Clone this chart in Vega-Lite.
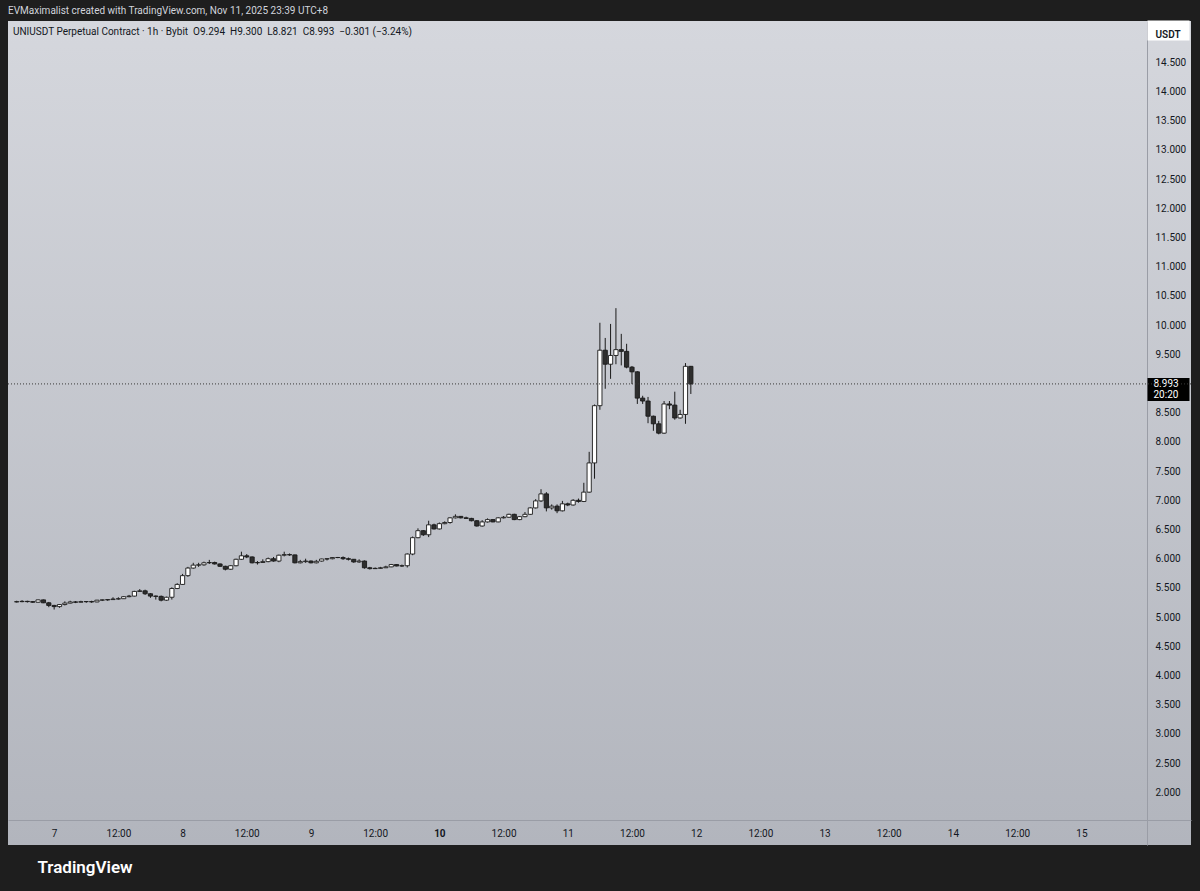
{
  "$schema": "https://vega.github.io/schema/vega-lite/v6.json",
  "width": 1183,
  "height": 824,
  "autosize": {"type": "none"},
  "padding": {"left": 8, "top": 21, "right": 9, "bottom": 46},
  "background": "#1e1e1e",
  "title": {
    "text": "EVMaximalist created with TradingView.com, Nov 11, 2025 23:39 UTC+8",
    "subtitle": "\u200b\u00a0\u00a0UNIUSDT Perpetual Contract · 1h · Bybit\u00a0\u00a0O9.294\u00a0\u00a0H9.300\u00a0\u00a0L8.821\u00a0\u00a0C8.993\u00a0\u00a0−0.301 (−3.24%)",
    "anchor": "start",
    "frame": "group",
    "color": "#d1d4dc",
    "fontSize": 10,
    "fontWeight": "normal",
    "subtitleColor": "#131722",
    "subtitleFontSize": 10,
    "subtitlePadding": 11,
    "offset": -17
  },
  "config": {
    "font": "Roboto",
    "view": {
      "stroke": null,
      "fill": {
        "gradient": "linear",
        "x1": 0, "y1": 0, "x2": 0, "y2": 1,
        "stops": [
          {"offset": 0, "color": "#d5d7dd"},
          {"offset": 1, "color": "#b2b5bd"}
        ]
      }
    }
  },
  "data": {
    "values": [
      {"t": "2025-11-06T17:00:00Z", "o": 5.26, "h": 5.28, "l": 5.25, "c": 5.265},
      {"t": "2025-11-06T18:00:00Z", "o": 5.265, "h": 5.29, "l": 5.255, "c": 5.27},
      {"t": "2025-11-06T19:00:00Z", "o": 5.27, "h": 5.28, "l": 5.25, "c": 5.265},
      {"t": "2025-11-06T20:00:00Z", "o": 5.265, "h": 5.275, "l": 5.245, "c": 5.255},
      {"t": "2025-11-06T21:00:00Z", "o": 5.255, "h": 5.3, "l": 5.25, "c": 5.295},
      {"t": "2025-11-06T22:00:00Z", "o": 5.295, "h": 5.3, "l": 5.24, "c": 5.245},
      {"t": "2025-11-06T23:00:00Z", "o": 5.245, "h": 5.26, "l": 5.17, "c": 5.2},
      {"t": "2025-11-07T00:00:00Z", "o": 5.2, "h": 5.21, "l": 5.13, "c": 5.18},
      {"t": "2025-11-07T01:00:00Z", "o": 5.18, "h": 5.22, "l": 5.16, "c": 5.215},
      {"t": "2025-11-07T02:00:00Z", "o": 5.215, "h": 5.27, "l": 5.2, "c": 5.24},
      {"t": "2025-11-07T03:00:00Z", "o": 5.24, "h": 5.28, "l": 5.235, "c": 5.26},
      {"t": "2025-11-07T04:00:00Z", "o": 5.26, "h": 5.275, "l": 5.24, "c": 5.255},
      {"t": "2025-11-07T05:00:00Z", "o": 5.255, "h": 5.28, "l": 5.25, "c": 5.265},
      {"t": "2025-11-07T06:00:00Z", "o": 5.265, "h": 5.275, "l": 5.245, "c": 5.266},
      {"t": "2025-11-07T07:00:00Z", "o": 5.266, "h": 5.28, "l": 5.245, "c": 5.26},
      {"t": "2025-11-07T08:00:00Z", "o": 5.26, "h": 5.295, "l": 5.255, "c": 5.29},
      {"t": "2025-11-07T09:00:00Z", "o": 5.29, "h": 5.3, "l": 5.275, "c": 5.295},
      {"t": "2025-11-07T10:00:00Z", "o": 5.295, "h": 5.305, "l": 5.28, "c": 5.3},
      {"t": "2025-11-07T11:00:00Z", "o": 5.3, "h": 5.34, "l": 5.295, "c": 5.31},
      {"t": "2025-11-07T12:00:00Z", "o": 5.31, "h": 5.34, "l": 5.3, "c": 5.315},
      {"t": "2025-11-07T13:00:00Z", "o": 5.315, "h": 5.36, "l": 5.31, "c": 5.35},
      {"t": "2025-11-07T14:00:00Z", "o": 5.35, "h": 5.38, "l": 5.34, "c": 5.36},
      {"t": "2025-11-07T15:00:00Z", "o": 5.36, "h": 5.45, "l": 5.355, "c": 5.44},
      {"t": "2025-11-07T16:00:00Z", "o": 5.44, "h": 5.48, "l": 5.43, "c": 5.45},
      {"t": "2025-11-07T17:00:00Z", "o": 5.45, "h": 5.47, "l": 5.38, "c": 5.4},
      {"t": "2025-11-07T18:00:00Z", "o": 5.4, "h": 5.41, "l": 5.33, "c": 5.36},
      {"t": "2025-11-07T19:00:00Z", "o": 5.36, "h": 5.37, "l": 5.3, "c": 5.355},
      {"t": "2025-11-07T20:00:00Z", "o": 5.355, "h": 5.37, "l": 5.27, "c": 5.29},
      {"t": "2025-11-07T21:00:00Z", "o": 5.29, "h": 5.35, "l": 5.28, "c": 5.34},
      {"t": "2025-11-07T22:00:00Z", "o": 5.34, "h": 5.51, "l": 5.3, "c": 5.49},
      {"t": "2025-11-07T23:00:00Z", "o": 5.49, "h": 5.58, "l": 5.48, "c": 5.56},
      {"t": "2025-11-08T00:00:00Z", "o": 5.56, "h": 5.74, "l": 5.55, "c": 5.71},
      {"t": "2025-11-08T01:00:00Z", "o": 5.71, "h": 5.86, "l": 5.69, "c": 5.84},
      {"t": "2025-11-08T02:00:00Z", "o": 5.84, "h": 5.93, "l": 5.83, "c": 5.89},
      {"t": "2025-11-08T03:00:00Z", "o": 5.89, "h": 5.93, "l": 5.86, "c": 5.895},
      {"t": "2025-11-08T04:00:00Z", "o": 5.895, "h": 5.95, "l": 5.88, "c": 5.93},
      {"t": "2025-11-08T05:00:00Z", "o": 5.93, "h": 5.98, "l": 5.91, "c": 5.935},
      {"t": "2025-11-08T06:00:00Z", "o": 5.935, "h": 5.95, "l": 5.9, "c": 5.91},
      {"t": "2025-11-08T07:00:00Z", "o": 5.91, "h": 5.92, "l": 5.86, "c": 5.87},
      {"t": "2025-11-08T08:00:00Z", "o": 5.87, "h": 5.88, "l": 5.8, "c": 5.82},
      {"t": "2025-11-08T09:00:00Z", "o": 5.82, "h": 5.89, "l": 5.81, "c": 5.88},
      {"t": "2025-11-08T10:00:00Z", "o": 5.88, "h": 6.0, "l": 5.87, "c": 5.99},
      {"t": "2025-11-08T11:00:00Z", "o": 5.99, "h": 6.12, "l": 5.98, "c": 6.05},
      {"t": "2025-11-08T12:00:00Z", "o": 6.05, "h": 6.08, "l": 6.01, "c": 6.03},
      {"t": "2025-11-08T13:00:00Z", "o": 6.03, "h": 6.04, "l": 5.92, "c": 5.93},
      {"t": "2025-11-08T14:00:00Z", "o": 5.93, "h": 5.96, "l": 5.9, "c": 5.935},
      {"t": "2025-11-08T15:00:00Z", "o": 5.935, "h": 5.99, "l": 5.93, "c": 5.95},
      {"t": "2025-11-08T16:00:00Z", "o": 5.95, "h": 6.02, "l": 5.94, "c": 6.0},
      {"t": "2025-11-08T17:00:00Z", "o": 6.0, "h": 6.03, "l": 5.95, "c": 5.96},
      {"t": "2025-11-08T18:00:00Z", "o": 5.96, "h": 6.07, "l": 5.94, "c": 6.06},
      {"t": "2025-11-08T19:00:00Z", "o": 6.06, "h": 6.12, "l": 6.04, "c": 6.07},
      {"t": "2025-11-08T20:00:00Z", "o": 6.07, "h": 6.09, "l": 6.05, "c": 6.065},
      {"t": "2025-11-08T21:00:00Z", "o": 6.065, "h": 6.07, "l": 5.92, "c": 5.93},
      {"t": "2025-11-08T22:00:00Z", "o": 5.93, "h": 5.98, "l": 5.92, "c": 5.95},
      {"t": "2025-11-08T23:00:00Z", "o": 5.95, "h": 6.0, "l": 5.93, "c": 5.96},
      {"t": "2025-11-09T00:00:00Z", "o": 5.96, "h": 5.97, "l": 5.92, "c": 5.93},
      {"t": "2025-11-09T01:00:00Z", "o": 5.93, "h": 5.98, "l": 5.92, "c": 5.955},
      {"t": "2025-11-09T02:00:00Z", "o": 5.96, "h": 6.0, "l": 5.95, "c": 5.995},
      {"t": "2025-11-09T03:00:00Z", "o": 5.995, "h": 6.005, "l": 5.97, "c": 6.0},
      {"t": "2025-11-09T04:00:00Z", "o": 6.0, "h": 6.025, "l": 5.99, "c": 6.02},
      {"t": "2025-11-09T05:00:00Z", "o": 6.02, "h": 6.03, "l": 6.01, "c": 6.021},
      {"t": "2025-11-09T06:00:00Z", "o": 6.02, "h": 6.04, "l": 5.98, "c": 6.0},
      {"t": "2025-11-09T07:00:00Z", "o": 6.0, "h": 6.02, "l": 5.97, "c": 5.99},
      {"t": "2025-11-09T08:00:00Z", "o": 5.99, "h": 5.995, "l": 5.93, "c": 5.945},
      {"t": "2025-11-09T09:00:00Z", "o": 5.945, "h": 5.99, "l": 5.93, "c": 5.96},
      {"t": "2025-11-09T10:00:00Z", "o": 5.96, "h": 5.97, "l": 5.83, "c": 5.845},
      {"t": "2025-11-09T11:00:00Z", "o": 5.845, "h": 5.86, "l": 5.815, "c": 5.83},
      {"t": "2025-11-09T12:00:00Z", "o": 5.83, "h": 5.85, "l": 5.825, "c": 5.835},
      {"t": "2025-11-09T13:00:00Z", "o": 5.835, "h": 5.86, "l": 5.83, "c": 5.845},
      {"t": "2025-11-09T14:00:00Z", "o": 5.845, "h": 5.88, "l": 5.84, "c": 5.86},
      {"t": "2025-11-09T15:00:00Z", "o": 5.86, "h": 5.91, "l": 5.855, "c": 5.9},
      {"t": "2025-11-09T16:00:00Z", "o": 5.9, "h": 5.905, "l": 5.87, "c": 5.875},
      {"t": "2025-11-09T17:00:00Z", "o": 5.875, "h": 5.9, "l": 5.86, "c": 5.88},
      {"t": "2025-11-09T18:00:00Z", "o": 5.88, "h": 6.09, "l": 5.85, "c": 6.08},
      {"t": "2025-11-09T19:00:00Z", "o": 6.08, "h": 6.38, "l": 6.06, "c": 6.36},
      {"t": "2025-11-09T20:00:00Z", "o": 6.36, "h": 6.52, "l": 6.35, "c": 6.48},
      {"t": "2025-11-09T21:00:00Z", "o": 6.48, "h": 6.49, "l": 6.39, "c": 6.41},
      {"t": "2025-11-09T22:00:00Z", "o": 6.41, "h": 6.65, "l": 6.37, "c": 6.58},
      {"t": "2025-11-09T23:00:00Z", "o": 6.58, "h": 6.6, "l": 6.5, "c": 6.51},
      {"t": "2025-11-10T00:00:00Z", "o": 6.51, "h": 6.62, "l": 6.5, "c": 6.6},
      {"t": "2025-11-10T01:00:00Z", "o": 6.6, "h": 6.64, "l": 6.59, "c": 6.62},
      {"t": "2025-11-10T02:00:00Z", "o": 6.62, "h": 6.71, "l": 6.6, "c": 6.7},
      {"t": "2025-11-10T03:00:00Z", "o": 6.7, "h": 6.76, "l": 6.69, "c": 6.725},
      {"t": "2025-11-10T04:00:00Z", "o": 6.725, "h": 6.73, "l": 6.69, "c": 6.7},
      {"t": "2025-11-10T05:00:00Z", "o": 6.7, "h": 6.72, "l": 6.685, "c": 6.69},
      {"t": "2025-11-10T06:00:00Z", "o": 6.69, "h": 6.7, "l": 6.64, "c": 6.65},
      {"t": "2025-11-10T07:00:00Z", "o": 6.65, "h": 6.66, "l": 6.55, "c": 6.56},
      {"t": "2025-11-10T08:00:00Z", "o": 6.56, "h": 6.66, "l": 6.55, "c": 6.63},
      {"t": "2025-11-10T09:00:00Z", "o": 6.63, "h": 6.69, "l": 6.62, "c": 6.67},
      {"t": "2025-11-10T10:00:00Z", "o": 6.67, "h": 6.675, "l": 6.625, "c": 6.63},
      {"t": "2025-11-10T11:00:00Z", "o": 6.63, "h": 6.71, "l": 6.625, "c": 6.7},
      {"t": "2025-11-10T12:00:00Z", "o": 6.7, "h": 6.73, "l": 6.69, "c": 6.71},
      {"t": "2025-11-10T13:00:00Z", "o": 6.71, "h": 6.77, "l": 6.7, "c": 6.76},
      {"t": "2025-11-10T14:00:00Z", "o": 6.76, "h": 6.77, "l": 6.66, "c": 6.67},
      {"t": "2025-11-10T15:00:00Z", "o": 6.67, "h": 6.73, "l": 6.66, "c": 6.72},
      {"t": "2025-11-10T16:00:00Z", "o": 6.72, "h": 6.8, "l": 6.71, "c": 6.76},
      {"t": "2025-11-10T17:00:00Z", "o": 6.76, "h": 6.88, "l": 6.75, "c": 6.87},
      {"t": "2025-11-10T18:00:00Z", "o": 6.87, "h": 7.02, "l": 6.86, "c": 6.99},
      {"t": "2025-11-10T19:00:00Z", "o": 6.99, "h": 7.19, "l": 6.97, "c": 7.11},
      {"t": "2025-11-10T20:00:00Z", "o": 7.11, "h": 7.14, "l": 6.81, "c": 6.87},
      {"t": "2025-11-10T21:00:00Z", "o": 6.87, "h": 6.93, "l": 6.84, "c": 6.9},
      {"t": "2025-11-10T22:00:00Z", "o": 6.9, "h": 6.93, "l": 6.78, "c": 6.82},
      {"t": "2025-11-10T23:00:00Z", "o": 6.82, "h": 6.99, "l": 6.81, "c": 6.94},
      {"t": "2025-11-11T00:00:00Z", "o": 6.94, "h": 6.96, "l": 6.9, "c": 6.92},
      {"t": "2025-11-11T01:00:00Z", "o": 6.92, "h": 7.02, "l": 6.91, "c": 7.0},
      {"t": "2025-11-11T02:00:00Z", "o": 7.0, "h": 7.03, "l": 6.96, "c": 6.98},
      {"t": "2025-11-11T03:00:00Z", "o": 6.98, "h": 7.3, "l": 6.97, "c": 7.14},
      {"t": "2025-11-11T04:00:00Z", "o": 7.14, "h": 7.83, "l": 7.13, "c": 7.64},
      {"t": "2025-11-11T05:00:00Z", "o": 7.64, "h": 8.64, "l": 7.37, "c": 8.62},
      {"t": "2025-11-11T06:00:00Z", "o": 8.62, "h": 10.04, "l": 8.55, "c": 9.57},
      {"t": "2025-11-11T07:00:00Z", "o": 9.57, "h": 9.78, "l": 8.91, "c": 9.33},
      {"t": "2025-11-11T08:00:00Z", "o": 9.33, "h": 10.02, "l": 9.08, "c": 9.48},
      {"t": "2025-11-11T09:00:00Z", "o": 9.48, "h": 10.29, "l": 9.33, "c": 9.58},
      {"t": "2025-11-11T10:00:00Z", "o": 9.58, "h": 9.85, "l": 9.31, "c": 9.55},
      {"t": "2025-11-11T11:00:00Z", "o": 9.55, "h": 9.68, "l": 9.26, "c": 9.28},
      {"t": "2025-11-11T12:00:00Z", "o": 9.28, "h": 9.3, "l": 8.99, "c": 9.2},
      {"t": "2025-11-11T13:00:00Z", "o": 9.2, "h": 9.21, "l": 8.65, "c": 8.75},
      {"t": "2025-11-11T14:00:00Z", "o": 8.75, "h": 8.79, "l": 8.65, "c": 8.7},
      {"t": "2025-11-11T15:00:00Z", "o": 8.7, "h": 8.77, "l": 8.32, "c": 8.44},
      {"t": "2025-11-11T16:00:00Z", "o": 8.44, "h": 8.45, "l": 8.19, "c": 8.31},
      {"t": "2025-11-11T17:00:00Z", "o": 8.31, "h": 8.36, "l": 8.13, "c": 8.15},
      {"t": "2025-11-11T18:00:00Z", "o": 8.15, "h": 8.7, "l": 8.14, "c": 8.65},
      {"t": "2025-11-11T19:00:00Z", "o": 8.65, "h": 8.7, "l": 8.56, "c": 8.63},
      {"t": "2025-11-11T20:00:00Z", "o": 8.63, "h": 8.86, "l": 8.38, "c": 8.41},
      {"t": "2025-11-11T21:00:00Z", "o": 8.41, "h": 8.55, "l": 8.4, "c": 8.47},
      {"t": "2025-11-11T22:00:00Z", "o": 8.47, "h": 9.35, "l": 8.31, "c": 9.294},
      {"t": "2025-11-11T23:00:00Z", "o": 9.294, "h": 9.3, "l": 8.821, "c": 8.993}
    ]
  },
  "layer": [
    {
      "encoding": {
        "x": {
          "field": "t",
          "type": "temporal",
          "scale": {"type": "utc", "domain": [1762445912000, 1763235180000], "nice": false},
          "axis": {
            "orient": "bottom",
            "offset": -25,
            "values": [1762473600000, 1762516800000, 1762560000000, 1762603200000, 1762646400000, 1762689600000, 1762732800000, 1762776000000, 1762819200000, 1762862400000, 1762905600000, 1762948800000, 1762992000000, 1763035200000, 1763078400000, 1763121600000, 1763164800000],
            "labelExpr": "utchours(datum.value) == 12 ? '12:00' : '' + utcdate(datum.value)",
            "labelFontWeight": {"condition": {"test": "utcdate(datum.value) == 10 && utchours(datum.value) == 0", "value": "bold"}, "value": "normal"},
            "labelColor": "#131722",
            "labelFontSize": 10,
            "labelPadding": 8,
            "labelOverlap": false,
            "labelFlush": false,
            "ticks": false,
            "tickSize": 0,
            "grid": false,
            "domainColor": "#9a9da6",
            "domainWidth": 1,
            "title": "TradingView",
            "titleAnchor": "start",
            "titleAlign": "left",
            "titleX": 29,
            "titleY": 47,
            "titleBaseline": "middle",
            "titleFontSize": 17,
            "titleFontWeight": 600,
            "titleColor": "#ffffff"
          }
        },
        "y": {
          "field": "l",
          "type": "quantitative",
          "title": null,
          "scale": {"domain": [1.098, 15.207], "nice": false, "zero": false},
          "axis": {
            "orient": "right",
            "offset": -44,
            "values": [2, 2.5, 3, 3.5, 4, 4.5, 5, 5.5, 6, 6.5, 7, 7.5, 8, 8.5, 9.5, 10, 10.5, 11, 11.5, 12, 12.5, 13, 13.5, 14, 14.5],
            "format": ".3f",
            "labelAlign": "left",
            "labelBaseline": "middle",
            "labelPadding": 8,
            "labelColor": "#131722",
            "labelFontSize": 10,
            "labelOverlap": false,
            "labelFlush": false,
            "ticks": false,
            "tickSize": 0,
            "grid": false,
            "domainColor": "#9a9da6",
            "domainWidth": 1
          }
        }
      },
      "layer": [
        {
          "mark": {"type": "rule", "color": "#1a1a1a", "strokeWidth": 1},
          "encoding": {
            "y2": {"field": "h"}
          }
        },
        {
          "mark": {"type": "bar", "size": 4.2, "stroke": "#1a1a1a", "strokeWidth": 0.9},
          "encoding": {
            "y": {"field": "o", "type": "quantitative", "title": null},
            "y2": {"field": "c"},
            "fill": {"condition": {"test": "datum.c >= datum.o", "value": "#ffffff"}, "value": "#2e2e2e"}
          }
        }
      ]
    },
    {
      "transform": [{"filter": {"field": "c", "equal": 8.993}}],
      "mark": {"type": "rule", "color": "#3a3a3a", "strokeWidth": 1, "strokeDash": [1, 2]},
      "encoding": {
        "y": {
          "field": "c",
          "type": "quantitative",
          "scale": {"domain": [1.098, 15.207], "nice": false, "zero": false},
          "axis": {
            "orient": "right",
            "offset": -44,
            "values": [8.993, 15.14],
            "labelExpr": "datum.value > 14 ? 'USDT' : [format(datum.value, '.3f'), '20:20']",
            "labelAlign": "left",
            "labelBaseline": "middle",
            "labelPadding": {"condition": {"test": "datum.value > 14", "value": -34}, "value": -36},
            "labelOffset": {"condition": {"test": "datum.value > 14", "value": 5}, "value": -5},
            "labelLineHeight": 11,
            "labelColor": {"condition": {"test": "datum.value > 14", "value": "#131722"}, "value": "#ffffff"},
            "labelFontWeight": {"condition": {"test": "datum.value > 14", "value": 600}, "value": "normal"},
            "labelFontSize": 10,
            "labelOverlap": false,
            "labelFlush": false,
            "labelBound": false,
            "ticks": true,
            "tickSize": 42,
            "tickWidth": {"condition": {"test": "datum.value > 14", "value": 20}, "value": 23},
            "tickOffset": 5,
            "tickColor": {"condition": {"test": "datum.value > 14", "value": "#ffffff"}, "value": "#000000"},
            "domain": false,
            "grid": false,
            "title": null
          }
        }
      }
    }
  ],
  "resolve": {"axis": {"y": "independent"}}
}
